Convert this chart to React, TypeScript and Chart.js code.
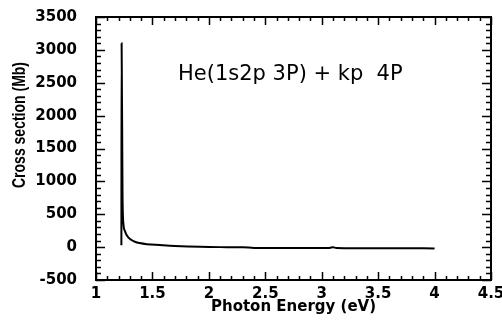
import React, { useEffect, useRef } from "react";
import { Chart, registerables } from "chart.js";

Chart.register(...registerables);

// Photon energy (eV)
const energy = [
  1.225, 1.227, 1.235, 1.244, 1.255, 1.271, 1.29, 1.315, 1.35, 1.386, 1.45,
  1.564, 1.7, 1.92, 2.1, 2.3, 2.4, 2.6, 2.8, 3.0, 3.07, 3.1, 3.13, 3.3, 3.5,
  3.7, 3.9, 4.0,
];
// Cross section (Mb)
const cross = [
  30, 3100, 800, 336, 250, 184, 140, 108, 78, 62, 45, 32, 18, 4, 0, -2, -12,
  -15, -15, -14, -12, -2, -15, -18, -18, -18, -19, -20,
];

const xTickStep = 0.5;
const yTickStep = 500;
const xMin = 1;
const xMax = 4.5;
const yMin = -500;
const yMax = 3500;
const xTitle = "Photon Energy (eV)";
const yTitle = "Cross section (Mb)";
const annotation = "He(1s2p 3P) + kp  4P";

const fmt = (v: any) => String(Math.round(Number(v) * 100) / 100);

const framePlugin = {
  id: "frame",
  afterDraw(chart: any) {
    const { ctx, chartArea: a, scales } = chart;
    const xs = scales.x;
    const ys = scales.y;
    ctx.save();
    ctx.strokeStyle = "#000";
    ctx.lineWidth = 2;
    ctx.strokeRect(a.left, a.top, a.right - a.left, a.bottom - a.top);
    ctx.lineWidth = 1.5;
    ctx.beginPath();
    for (let i = 0; i <= Math.round((xMax - xMin) / 0.1); i++) {
      const v = xMin + i * 0.1;
      const px = Math.round(xs.getPixelForValue(v)) + 0.5;
      const major = i % 5 === 0;
      const len = major ? 8 : 4;
      ctx.moveTo(px, a.bottom);
      ctx.lineTo(px, a.bottom - len);
      ctx.moveTo(px, a.top);
      ctx.lineTo(px, a.top + len);
    }
    for (let i = 0; i <= Math.round((yMax - yMin) / 100); i++) {
      const v = yMin + i * 100;
      const py = Math.round(ys.getPixelForValue(v)) + 0.5;
      const major = i % 5 === 0;
      const len = major ? 9 : 5;
      ctx.moveTo(a.left, py);
      ctx.lineTo(a.left + len, py);
      ctx.moveTo(a.right, py);
      ctx.lineTo(a.right - len, py);
    }
    ctx.stroke();

    // y-axis title
    ctx.fillStyle = "#000";
    ctx.font = "bold 14px 'Liberation Sans', Arial, sans-serif";
    ctx.textAlign = "center";
    ctx.textBaseline = "middle";
    ctx.translate(20, 125);
    ctx.rotate(-Math.PI / 2);
    ctx.scale(1, 1.25);
    ctx.fillText(yTitle, 0, 0);
    ctx.restore();

    // annotation
    ctx.save();
    ctx.fillStyle = "#000";
    ctx.font = "21px 'DejaVu Sans', sans-serif";
    ctx.textAlign = "left";
    ctx.textBaseline = "middle";
    ctx.fillText(annotation, xs.getPixelForValue(1.727), ys.getPixelForValue(2620));
    ctx.restore();
  },
};

export default function App() {
  const ref = useRef<HTMLCanvasElement | null>(null);
  useEffect(() => {
    if (!ref.current) return;
    const chart = new Chart(ref.current, {
      type: "line",
      data: {
        datasets: [
          {
            data: energy.map((x, i) => ({ x, y: cross[i] })),
            borderColor: "#000",
            borderWidth: 2,
            pointRadius: 0,
            cubicInterpolationMode: "monotone",
            fill: false,
          },
        ],
      },
      options: {
        responsive: false,
        animation: false,
        layout: { padding: { left: 0, right: 11, top: 17, bottom: 0 } },
        plugins: { legend: { display: false }, tooltip: { enabled: false } },
        scales: {
          x: {
            type: "linear",
            min: xMin,
            max: xMax,
            grid: { display: false, drawTicks: false },
            border: { display: false },
            ticks: {
              stepSize: xTickStep,
              color: "#000",
              padding: 5,
              maxRotation: 0,
              callback: fmt,
              font: { family: "'DejaVu Sans', sans-serif", weight: "bold", size: 15 },
            },
            title: {
              display: true,
              text: xTitle,
              color: "#000",
              padding: { top: 0, bottom: 15 },
              font: { family: "'DejaVu Sans', sans-serif", weight: "bold", size: 15 },
            },
            afterFit(scale: any) {
              scale.height = 51;
              scale.paddingLeft = 0;
              scale.paddingRight = 0;
            },
          },
          y: {
            type: "linear",
            min: yMin,
            max: yMax,
            grid: { display: false, drawTicks: false },
            border: { display: false },
            ticks: {
              stepSize: yTickStep,
              color: "#000",
              padding: 19,
              callback: fmt,
              font: { family: "'DejaVu Sans', sans-serif", weight: "bold", size: 15 },
            },
            afterFit(scale: any) {
              scale.width = 96;
              scale.paddingTop = 0;
              scale.paddingBottom = 0;
            },
          },
        },
      },
      plugins: [framePlugin],
    });
    return () => chart.destroy();
  }, []);
  return (
    <div style={{ position: "absolute", left: 0, top: 0, width: 502, height: 331, background: "#fff" }}>
      <canvas ref={ref} width={502} height={331} style={{ display: "block" }} />
    </div>
  );
}
